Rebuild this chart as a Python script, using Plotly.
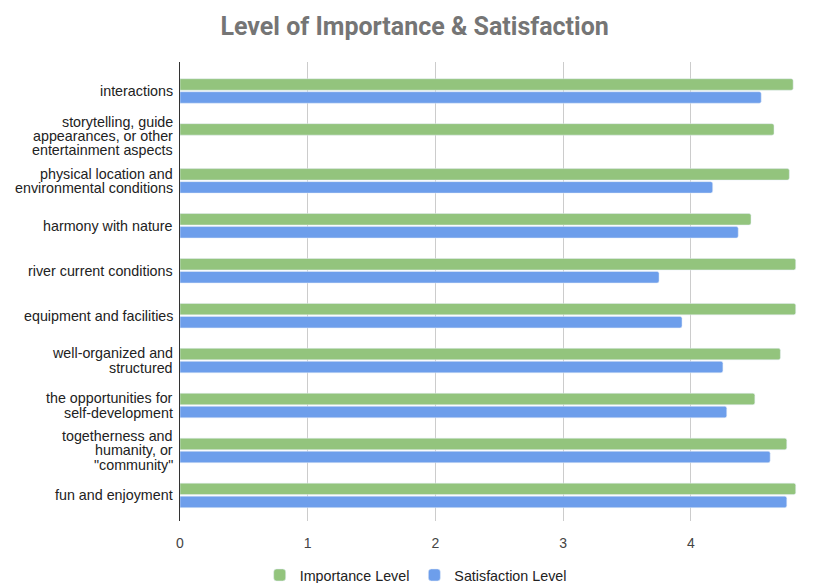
import plotly.graph_objects as go

categories = [
    "interactions",
    "storytelling, guide<br>appearances, or other<br>entertainment aspects",
    "physical location and<br>environmental conditions",
    "harmony with nature",
    "river current conditions",
    "equipment and facilities",
    "well-organized and<br>structured",
    "the opportunities for<br>self-development",
    "togetherness and<br>humanity, or<br>\"community\"",
    "fun and enjoyment",
]
importance = [4.80, 4.65, 4.77, 4.47, 4.82, 4.82, 4.70, 4.50, 4.75, 4.82]
satisfaction = [4.55, None, 4.17, 4.37, 3.75, 3.93, 4.25, 4.28, 4.62, 4.75]
x_ticks = [0, 1, 2, 3, 4]

fig = go.Figure()
fig.add_trace(go.Bar(
    y=categories, x=importance, orientation="h", name="Importance Level",
    marker=dict(color="#93c47d", cornerradius=2),
))
fig.add_trace(go.Bar(
    y=categories, x=satisfaction, orientation="h", name="Satisfaction Level",
    marker=dict(color="#6d9eeb", cornerradius=2),
))

# category labels with tight line spacing, one annotation per line
LINE = 14.3
for cat in categories:
    lines = cat.split("<br>")
    n = len(lines)
    for i, ln in enumerate(lines):
        fig.add_annotation(
            x=0, xref="paper", y=cat, yref="y", text=ln, showarrow=False,
            xanchor="right", yanchor="middle", xshift=-5,
            yshift=((n - 1) / 2 - i) * LINE,
            font=dict(family="Arial, Liberation Sans", size=14.3, color="#222222"),
        )

fig.update_layout(
    width=813, height=583,
    margin=dict(l=180, r=16, t=62, b=62, autoexpand=False),
    paper_bgcolor="white", plot_bgcolor="white",
    barmode="group", bargap=0.42, bargroupgap=0.12,
    title=dict(text="<b>Level of Importance & Satisfaction</b>", x=0.51, xanchor="center",
               y=0.955, yanchor="middle",
               font=dict(family="Roboto, Arial", size=25, color="#757575")),
    font=dict(family="Arial, Liberation Sans", size=14, color="#222222"),
    legend=dict(orientation="h", x=0.382, xanchor="center", y=-0.118, yanchor="middle",
                font=dict(size=14.3, color="#222222"), itemwidth=30),
    showlegend=True,
)
fig.update_xaxes(
    range=[0, 4.83], tickvals=x_ticks, showgrid=True, gridcolor="#cccccc", gridwidth=1,
    zeroline=False, tickfont=dict(size=14, color="#444444"), ticks="", ticklabelstandoff=12,
)
fig.update_yaxes(
    categoryorder="array", categoryarray=categories,
    range=[9.57, -0.645], showline=True, linecolor="#333333", linewidth=1,
    showgrid=False, ticks="", showticklabels=False,
)
fig.write_html("out.html")
